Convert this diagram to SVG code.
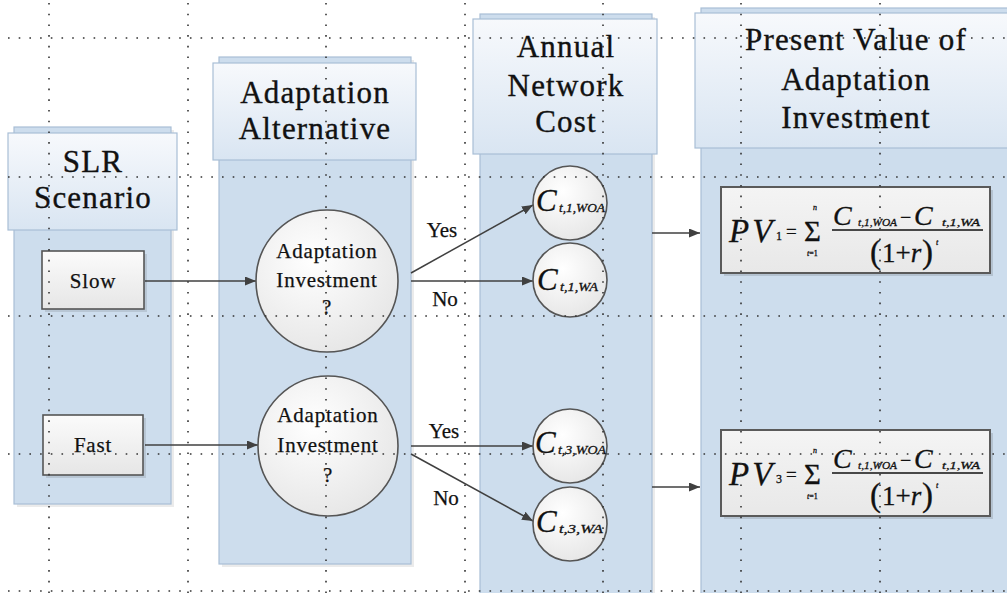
<svg xmlns="http://www.w3.org/2000/svg" width="1007" height="593" viewBox="0 0 1007 593">
<defs>
<linearGradient id="hdr" x1="0" y1="0" x2="0" y2="1">
<stop offset="0" stop-color="#f7f9fc"/>
<stop offset="1" stop-color="#d9e5f2"/>
</linearGradient>
<radialGradient id="circ" cx="0.4" cy="0.35" r="0.75">
<stop offset="0" stop-color="#ffffff"/>
<stop offset="1" stop-color="#e4e4e4"/>
</radialGradient>
<linearGradient id="box" x1="0" y1="0" x2="0" y2="1">
<stop offset="0" stop-color="#fbfbfb"/>
<stop offset="1" stop-color="#e6e6e6"/>
</linearGradient>
<linearGradient id="fbox" x1="0" y1="0" x2="0" y2="1">
<stop offset="0" stop-color="#f4f4f4"/>
<stop offset="1" stop-color="#e8e8e8"/>
</linearGradient>
<marker id="arr" markerUnits="userSpaceOnUse" markerWidth="12" markerHeight="10" refX="11" refY="4.5" orient="auto">
<path d="M0,0 L11,4.5 L0,9 z" fill="#404040"/>
</marker>
<style>
.lane{fill:#cddded;stroke:#a9bed6;stroke-width:1.2}
.shadow{fill:#000;opacity:0.08}
.hdr{fill:url(#hdr);stroke:#a9bed6;stroke-width:1.2}
.ht{font-family:"Liberation Serif","Times New Roman",serif;font-size:31px;fill:#111;stroke:#111;stroke-width:0.35;text-anchor:middle;letter-spacing:1.2px}
.nt{font-family:"Liberation Serif","Times New Roman",serif;font-size:21px;fill:#111;stroke:#111;stroke-width:0.25;text-anchor:middle;letter-spacing:0.8px}
.lbl{font-family:"Liberation Serif","Times New Roman",serif;font-size:21px;fill:#111;stroke:#111;stroke-width:0.25;text-anchor:middle}
.circ{fill:url(#circ);stroke:#555;stroke-width:1.6}
.box{fill:url(#box);stroke:#555;stroke-width:1.6}
.fbox{fill:url(#fbox);stroke:#5a5a5a;stroke-width:2}
.conn{stroke:#404040;stroke-width:1.5;fill:none;marker-end:url(#arr)}
.ci{font-family:"Liberation Serif","Times New Roman",serif;font-style:italic;fill:#111;stroke:#111;stroke-width:0.3}
.fm{font-family:"Liberation Serif","Times New Roman",serif;fill:#111;stroke:#111;stroke-width:0.3}
.grid{stroke:#333;stroke-width:1.6;stroke-dasharray:1.6 9.1;fill:none}
</style>
</defs>
<rect width="1007" height="593" fill="#ffffff"/>

<g id="lane-slr">
<rect class="shadow" x="17" y="130" width="157" height="377"/>
<rect class="lane" x="14" y="127" width="157" height="377"/>
<rect class="hdr" x="8" y="133" width="169" height="97"/>
<text class="ht" x="93" y="172">SLR</text>
<text class="ht" x="93" y="208">Scenario</text>
</g>

<g id="lane-alt">
<rect class="shadow" x="222" y="60" width="192" height="507"/>
<rect class="lane" x="219" y="57" width="192" height="507"/>
<rect class="hdr" x="213" y="63" width="203" height="97"/>
<text class="ht" x="315" y="103">Adaptation</text>
<text class="ht" x="315" y="139">Alternative</text>
</g>

<g id="lane-cost">
<rect class="shadow" x="483" y="17" width="172" height="590"/>
<rect class="lane" x="480" y="14" width="172" height="590"/>
<rect class="hdr" x="473" y="19" width="184" height="135"/>
<text class="ht" x="566" y="57">Annual</text>
<text class="ht" x="566" y="96">Network</text>
<text class="ht" x="566" y="132">Cost</text>
</g>

<g id="lane-pv">
<rect class="shadow" x="704" y="11" width="320" height="590"/>
<rect class="lane" x="701" y="8" width="320" height="590"/>
<rect class="hdr" x="695" y="13" width="330" height="135"/>
<text class="ht" x="856" y="50">Present Value of</text>
<text class="ht" x="856" y="90">Adaptation</text>
<text class="ht" x="856" y="128">Investment</text>
</g>

<g id="connectors">
<path class="conn" d="M145,281 L256,281"/>
<path class="conn" d="M145,445 L258,445"/>
<path class="conn" d="M411,273 L533,205"/>
<path class="conn" d="M411,281 L533,281"/>
<path class="conn" d="M411,446 L533,446"/>
<path class="conn" d="M411,454 L533,521"/>
<path class="conn" d="M652,233 L700,233"/>
<path class="conn" d="M652,487 L700,487"/>
<text class="lbl" x="442" y="237">Yes</text>
<text class="lbl" x="445" y="306">No</text>
<text class="lbl" x="444" y="438">Yes</text>
<text class="lbl" x="446" y="505">No</text>
</g>

<g id="node-slow">
<rect x="45" y="254" width="102" height="58" fill="#000" opacity="0.1"/>
<rect class="box" x="42" y="251" width="102" height="58"/>
<text class="nt" x="93" y="288">Slow</text>
</g>
<g id="node-fast">
<rect x="46" y="418" width="100" height="60" fill="#000" opacity="0.1"/>
<rect class="box" x="43" y="415" width="100" height="60"/>
<text class="nt" x="93" y="452">Fast</text>
</g>

<g id="node-inv1">
<circle class="circ" cx="327" cy="281" r="71"/>
<text class="nt" x="327" y="258">Adaptation</text>
<text class="nt" x="327" y="287">Investment</text>
<text class="nt" x="327" y="314">?</text>
</g>
<g id="node-inv2">
<circle class="circ" cx="328" cy="446" r="70"/>
<text class="nt" x="328" y="422">Adaptation</text>
<text class="nt" x="328" y="452">Investment</text>
<text class="nt" x="328" y="482">?</text>
</g>

<g id="node-c1woa">
<circle class="circ" cx="570" cy="203" r="37"/>
<text class="ci" x="536" y="211" font-size="31">C</text>
<text class="ci" x="559" y="212" font-size="13" textLength="46" lengthAdjust="spacingAndGlyphs">t,1,WOA</text>
</g>
<g id="node-c1wa">
<circle class="circ" cx="570" cy="280" r="37"/>
<text class="ci" x="537" y="290" font-size="31">C</text>
<text class="ci" x="560" y="291" font-size="13" textLength="38" lengthAdjust="spacingAndGlyphs">t,1,WA</text>
</g>
<g id="node-c3woa">
<circle class="circ" cx="570" cy="446" r="37"/>
<text class="ci" x="535" y="453" font-size="31">C</text>
<text class="ci" x="558" y="454" font-size="13" textLength="48" lengthAdjust="spacingAndGlyphs">t,3,WOA</text>
</g>
<g id="node-c3wa">
<circle class="circ" cx="570" cy="524" r="37"/>
<text class="ci" x="536" y="532" font-size="31">C</text>
<text class="ci" x="559" y="533" font-size="13" textLength="44" lengthAdjust="spacingAndGlyphs">t,3,WA</text>
</g>

<g id="node-pv1">
<rect x="724" y="190" width="269" height="86" fill="#000" opacity="0.12"/>
<rect class="fbox" x="721" y="187" width="269" height="86"/>
<text class="ci" x="729" y="242" font-size="33" letter-spacing="3">PV</text>
<text class="fm" x="776" y="240" font-size="12">1</text>
<text class="fm" x="786" y="238" font-size="19">=</text>
<text class="fm" x="804" y="241" font-size="29">Σ</text>
<text class="ci" x="813" y="210" font-size="8">n</text>
<text class="ci" x="807" y="256" font-size="8">t<tspan font-style="normal">=1</tspan></text>
<text class="ci" x="833" y="225" font-size="28">C</text>
<text class="ci" x="858" y="226" font-size="11" textLength="39" lengthAdjust="spacingAndGlyphs">t,1,WOA</text>
<text class="fm" x="900" y="224" font-size="20">−</text>
<text class="ci" x="914" y="225" font-size="28">C</text>
<text class="ci" x="942" y="226" font-size="11" textLength="38" lengthAdjust="spacingAndGlyphs">t,1,WA</text>
<line x1="832" y1="230" x2="983" y2="230" stroke="#111" stroke-width="1.3"/>
<text class="fm" x="870" y="263" font-size="33">(</text>
<text class="fm" x="882" y="262" font-size="27">1+<tspan font-style="italic">r</tspan></text>
<text class="fm" x="922" y="263" font-size="33">)</text>
<text class="ci" x="936" y="245" font-size="8">t</text>
</g>

<g id="node-pv3">
<rect x="724" y="433" width="269" height="86" fill="#000" opacity="0.12"/>
<rect class="fbox" x="721" y="430" width="269" height="86"/>
<text class="ci" x="729" y="485" font-size="33" letter-spacing="3">PV</text>
<text class="fm" x="776" y="483" font-size="12">3</text>
<text class="fm" x="786" y="481" font-size="19">=</text>
<text class="fm" x="804" y="484" font-size="29">Σ</text>
<text class="ci" x="813" y="453" font-size="8">n</text>
<text class="ci" x="807" y="499" font-size="8">t<tspan font-style="normal">=1</tspan></text>
<text class="ci" x="833" y="468" font-size="28">C</text>
<text class="ci" x="858" y="469" font-size="11" textLength="39" lengthAdjust="spacingAndGlyphs">t,1,WOA</text>
<text class="fm" x="900" y="467" font-size="20">−</text>
<text class="ci" x="914" y="468" font-size="28">C</text>
<text class="ci" x="942" y="469" font-size="11" textLength="38" lengthAdjust="spacingAndGlyphs">t,1,WA</text>
<line x1="832" y1="473" x2="983" y2="473" stroke="#111" stroke-width="1.3"/>
<text class="fm" x="870" y="506" font-size="33">(</text>
<text class="fm" x="882" y="505" font-size="27">1+<tspan font-style="italic">r</tspan></text>
<text class="fm" x="922" y="506" font-size="33">)</text>
<text class="ci" x="936" y="488" font-size="8">t</text>
</g>

<g id="grid">
<path class="grid" d="M8,38 H1007 M8,177 H1007 M8,316 H1007 M8,454 H1007 M8,591 H1007"/>
<path class="grid" d="M49,3 V593 M188,3 V593 M326,3 V593 M465,3 V593 M603,3 V593 M741,3 V593 M880,3 V593"/>
</g>
</svg>
